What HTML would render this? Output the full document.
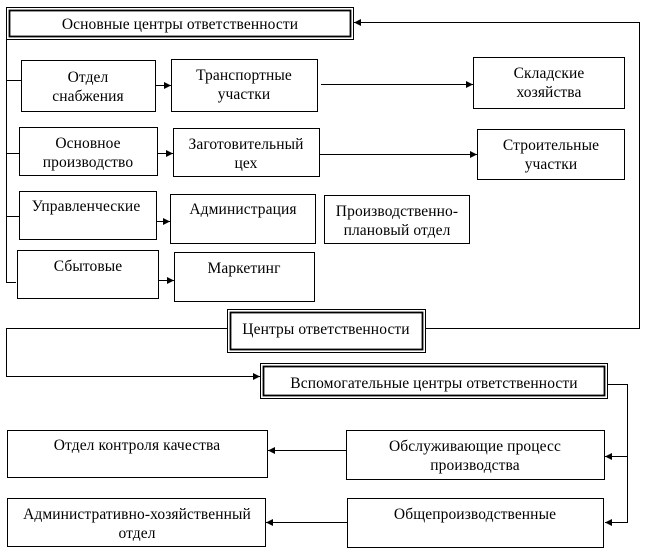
<!DOCTYPE html>
<html><head><meta charset="utf-8"><style>
html,body{margin:0;padding:0;background:#fff;}
svg{display:block}
text{font-family:"Liberation Serif",serif;font-size:15.5px;fill:#000;text-anchor:middle;letter-spacing:0.1px}
</style></head><body>
<svg width="648" height="553" viewBox="0 0 648 553" xmlns="http://www.w3.org/2000/svg">
<defs><marker id="a" markerWidth="8" markerHeight="8" refX="7" refY="4" orient="auto" markerUnits="userSpaceOnUse"><path d="M0,0.5 L7,4 L0,7.5z" fill="#000"/></marker></defs>
<g fill="none" stroke="#000" stroke-width="1">
<rect x="6.5" y="7.5" width="347" height="32"/>
<rect x="9.5" y="10.5" width="341" height="26" stroke-width="1.8"/>
<path d="M6.5 40 V282.5 H16"/>
<path d="M6.5 80.5 H21 M6.5 153.5 H19 M6.5 216.5 H19"/>
<rect x="21.5" y="60.5" width="134" height="51"/>
<rect x="171.5" y="59.5" width="146" height="52"/>
<rect x="473.5" y="57.5" width="151" height="51"/>
<rect x="19.5" y="127.5" width="138" height="48"/>
<rect x="173.5" y="128.5" width="146" height="48"/>
<rect x="477.5" y="129.5" width="147" height="50"/>
<rect x="19.5" y="191.5" width="137" height="48"/>
<rect x="170.5" y="194.5" width="145" height="49"/>
<rect x="324.5" y="195.5" width="145" height="48"/>
<rect x="17.5" y="250.5" width="141" height="48"/>
<rect x="174.5" y="252.5" width="140" height="49"/>
<path d="M155 85.5 H171" marker-end="url(#a)"/>
<path d="M321 84.5 H473" marker-end="url(#a)"/>
<path d="M158 153.5 H173" marker-end="url(#a)"/>
<path d="M320 154.5 H477" marker-end="url(#a)"/>
<path d="M157 221.5 H170" marker-end="url(#a)"/>
<path d="M159 280.5 H174" marker-end="url(#a)"/>
<rect x="227.5" y="309.5" width="198" height="43"/>
<rect x="230.5" y="312.5" width="192" height="37" stroke-width="1.8"/>
<path d="M227 328.5 H6.5 V376.5 H260" marker-end="url(#a)"/>
<path d="M426 328.5 H639.5 V22.5 H354" marker-end="url(#a)"/>
<rect x="260.5" y="363.5" width="347" height="35"/>
<rect x="263.5" y="366.5" width="341" height="29" stroke-width="1.8"/>
<path d="M608 384.5 H627.5 V522.5 H605" marker-end="url(#a)"/>
<path d="M627.5 456.5 H605" marker-end="url(#a)"/>
<rect x="346.5" y="430.5" width="258" height="49"/>
<rect x="347.5" y="498.5" width="256" height="49"/>
<rect x="7.5" y="430.5" width="260" height="47"/>
<rect x="7.5" y="498.5" width="258" height="48"/>
<path d="M346 450.5 H268" marker-end="url(#a)"/>
<path d="M347 522.5 H266" marker-end="url(#a)"/>
</g>
<text x="180" y="29">Основные центры ответственности</text>
<text x="88" y="82">Отдел</text><text x="88" y="101">снабжения</text>
<text x="244" y="80">Транспортные</text><text x="244" y="99">участки</text>
<text x="549" y="78">Складские</text><text x="549" y="97">хозяйства</text>
<text x="88" y="148">Основное</text><text x="88" y="167">производство</text>
<text x="246" y="149">Заготовительный</text><text x="246" y="168">цех</text>
<text x="551" y="150">Строительные</text><text x="551" y="169">участки</text>
<text x="86" y="211">Управленческие</text>
<text x="243" y="214">Администрация</text>
<text x="397" y="216">Производственно-</text><text x="397" y="235">плановый отдел</text>
<text x="88" y="271">Сбытовые</text>
<text x="244" y="273">Маркетинг</text>
<text x="326" y="334">Центры ответственности</text>
<text x="434" y="388">Вспомогательные центры ответственности</text>
<text x="137" y="450">Отдел контроля качества</text>
<text x="475" y="451">Обслуживающие процесс</text><text x="475" y="470">производства</text>
<text x="137" y="519">Административно-хозяйственный</text><text x="137" y="538">отдел</text>
<text x="475" y="519">Общепроизводственные</text>
</svg>
</body></html>
